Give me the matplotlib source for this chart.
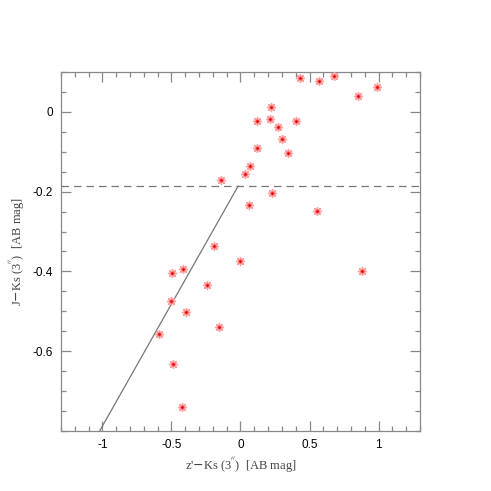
import numpy as np
import matplotlib
matplotlib.use("Agg")
import matplotlib.pyplot as plt
from matplotlib.ticker import MultipleLocator, FixedLocator

# colores z'-Ks y J-Ks (3") de las fuentes
zk = np.array([0.428, 0.565, 0.676, 0.852, 0.987, 0.221, 0.118, 0.214, 0.402,
               0.270, 0.298, 0.116, 0.342, 0.070, 0.031, -0.139, 0.231, 0.058,
               0.554, -0.193, 0.000, -0.417, -0.496, -0.241, -0.503, -0.392,
               -0.157, -0.590, -0.486, -0.426, 0.881])
jk = np.array([0.084, 0.0775, 0.089, 0.040, 0.0625, 0.013, -0.0225, -0.017,
               -0.022, -0.037, -0.069, -0.090, -0.1025, -0.136, -0.155, -0.172,
               -0.2025, -0.233, -0.249, -0.335, -0.375, -0.393, -0.405, -0.434,
               -0.475, -0.5025, -0.539, -0.5575, -0.633, -0.741, -0.40])

# limites de seleccion
corte_jk = -0.186
linea_x = [-1.02, -0.017]
linea_y = [-0.80, corte_jk]

xticks = [-1, -0.5, 0, 0.5, 1]
yticks = [-0.6, -0.4, -0.2, 0]

fig = plt.figure(figsize=(4.91, 4.91), dpi=100)
ax = fig.add_axes([0.1242, 0.1222, 0.7312, 0.7312])

ax.axhline(corte_jk, color="#777777", lw=0.9, ls=(0, (6, 4)))
ax.plot(linea_x, linea_y, color="#777777", lw=0.9)

ax.scatter(zk, jk, marker=(8, 2, 0), s=32, color="#ffa0a0", linewidths=1.1, zorder=3)
ax.scatter(zk, jk, marker="o", s=9, color="#ff6060", linewidths=0, zorder=4)
ax.scatter(zk, jk, marker="o", s=3, color="#dd0000", linewidths=0, zorder=5)

ax.set_xlim(-1.3, 1.3)
ax.set_ylim(-0.8, 0.1)
ax.xaxis.set_major_locator(FixedLocator(xticks))
ax.xaxis.set_minor_locator(MultipleLocator(0.1))
ax.yaxis.set_major_locator(FixedLocator(yticks))
ax.yaxis.set_minor_locator(MultipleLocator(0.05))
ax.set_xticklabels(["%g" % v for v in xticks])
ax.set_yticklabels(["%g" % v for v in yticks])

for s in ax.spines.values():
    s.set_color("#888888")
    s.set_linewidth(0.9)
ax.tick_params(which="both", direction="in", top=True, right=True,
               color="#888888", width=0.9, labelsize=8.5, pad=6)
ax.tick_params(which="major", length=7)
ax.tick_params(which="minor", length=3.5)
for lab in ax.get_xticklabels() + ax.get_yticklabels():
    lab.set_family("Liberation Sans")

ax.set_xlabel(r"z'$-$Ks (3$^{''}$)  [AB mag]", family="Liberation Serif",
              fontsize=9, color="#444444", labelpad=3)
ax.set_ylabel(r"J$-$Ks (3$^{''}$)  [AB mag]", family="Liberation Serif",
              fontsize=9, color="#444444", labelpad=4)

fig.savefig("out.png", dpi=100)
